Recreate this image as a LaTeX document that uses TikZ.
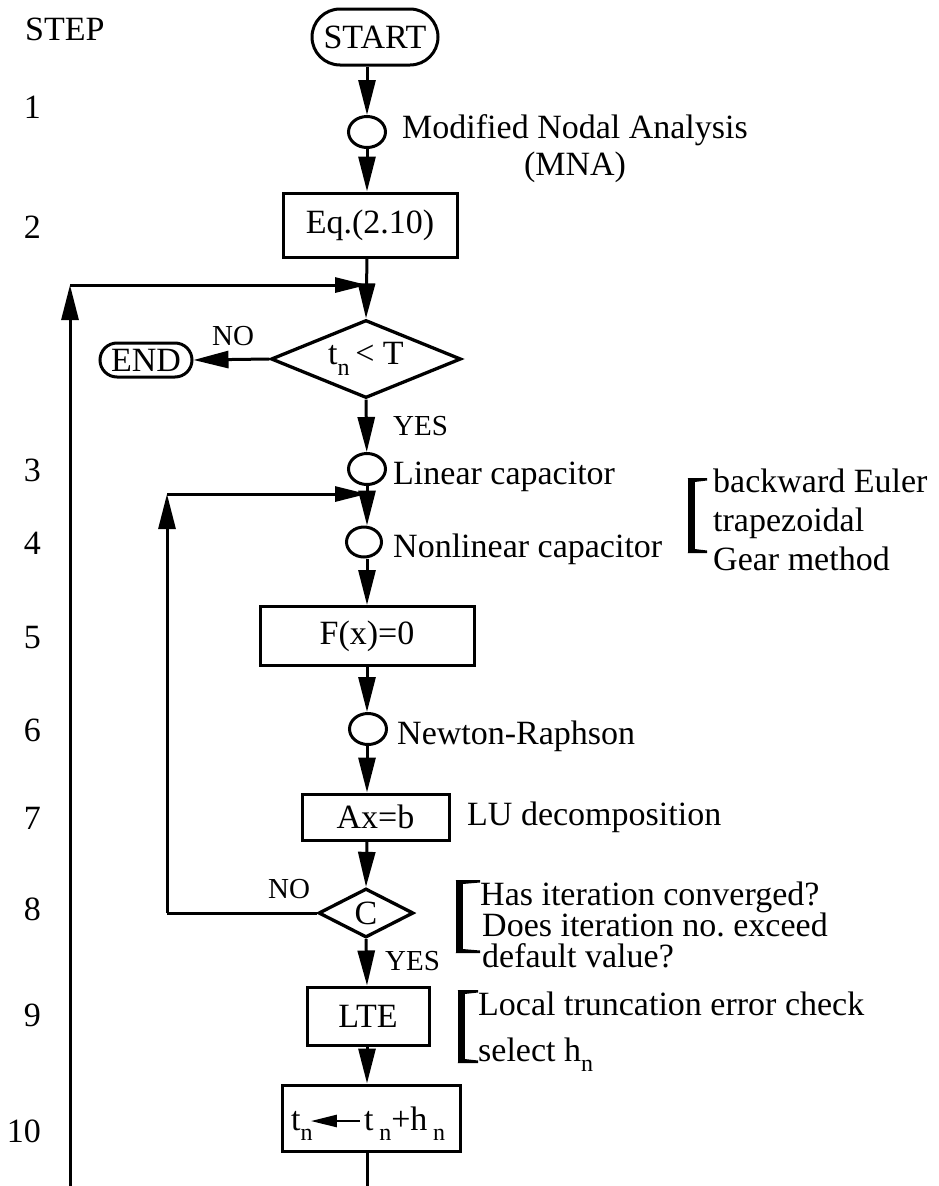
\documentclass[tikz,border=0pt]{standalone}
\usepackage{fontspec}
\setmainfont{Liberation Serif}
\usetikzlibrary{arrows.meta,shapes.geometric,shapes.misc,calc}
% lowered subscript used in t_n and h_n
\newcommand{\sbs}[1]{\raisebox{-0.32em}{\fontsize{24}{24}\selectfont #1}}
% side bracket: x, top, bottom, arm end
\newcommand{\sidebracket}[4]{%
  \fill ({#1-3.5},#2) rectangle ({#1+3.5},#3);
  \fill ({#1-3.5},#2) -- (#4,#2) -- (#4,{#2+2.5}) -- ({#1+3.5},{#2+4}) -- cycle;
  \fill ({#1-3.5},#3) -- (#4,#3) -- (#4,{#3-2.5}) -- ({#1+3.5},{#3-4}) -- cycle;
}
\begin{document}
\begin{tikzpicture}[x=1pt,y=-1pt,
  every node/.style={font=\fontsize{34}{38}\selectfont, inner sep=0pt},
  lab/.style={font=\fontsize{29}{32}\selectfont, anchor=base west},
  note/.style={anchor=base west},
  stepno/.style={anchor=base east},
  flow/.style={line width=3pt},
  arr/.style={flow,-{Triangle[length=35pt,width=17pt]}},
  harr/.style={flow,-{Triangle[length=32pt,width=15pt]}},
  box/.style={draw, line width=3pt, rectangle},
  term/.style={draw, line width=3pt, rounded rectangle},
  junc/.style={draw, line width=3pt, ellipse, minimum width=37pt, minimum height=31pt},
  test/.style={draw, line width=3.3pt, diamond, aspect=2.4},
]
\path[fill=white] (0,0) rectangle (939,1186);
\useasboundingbox (0,0) rectangle (939,1186);

% main axis of the chart
\coordinate (ax) at (367,0);

% ---- step column ----
\node[anchor=base west] (stephead) at (25,40) {STEP};
\node[stepno] (s1) at (41,118) {1};
\node[stepno] (s2) at (41,238) {2};
\node[stepno] (s3) at (41,481) {3};
\node[stepno] (s4) at (41,554) {4};
\node[stepno] (s5) at (41,648) {5};
\node[stepno] (s6) at (41,741) {6};
\node[stepno] (s7) at (41,829) {7};
\node[stepno] (s8) at (41,920) {8};
\node[stepno] (s9) at (41,1026) {9};
\node[stepno] (s10) at (41,1142) {10};

% ---- flow nodes ----
\node[term, minimum width=126pt, minimum height=56pt] (start) at (375,37) {START};
\node[junc] (c1) at (367,132) {};
\node[box, minimum width=174pt, minimum height=64pt] (eq) at (370,225) {Eq.(2.10)};
\node[test, minimum width=190pt, minimum height=78pt] (d1) at (366,359) {t\sbs{n}\,< T};
\node[term, minimum width=92pt, minimum height=34pt] (end) at (146,360) {END};
\node[junc] (c3) at (367,469) {};
\node[junc, minimum width=35pt, minimum height=30pt] (c4) at (364,542) {};
\node[box, minimum width=214pt, minimum height=59pt] (F) at (367,636) {F(x)=0};
\node[junc] (c6) at (368,729) {};
\node[box, minimum width=147pt, minimum height=46pt] (ab) at (375.5,817) {Ax=b};
\node[test, aspect=2, minimum width=95pt, minimum height=49pt] (dC) at (366,913) {C};
\node[box, minimum width=122pt, minimum height=58pt] (lte) at (368,1016) {LTE};
\node[box, minimum width=178pt, minimum height=66pt] (tn) at (371,1118) {};
\node[anchor=base west] (tnL) at (291,1130) {t\sbs{n}};
\node[anchor=base west] (tnR) at (364,1130) {t\,\sbs{n}+h\,\sbs{n}};

% ---- annotations ----
\node[note] (tMNA) at (402,138) {Modified Nodal Analysis};
\node[anchor=base] (tMNAb) at ($(tMNA.base)+(0,37)$) {(MNA)};
\node[note] (tLin) at (393,484) {Linear capacitor};
\node[note] (tNonlin) at (393,557) {Nonlinear capacitor};
\node[note] (tEu1) at (713,492) {backward Euler};
\node[note] (tEu2) at (713,531) {trapezoidal};
\node[note] (tEu3) at (713,570) {Gear method};
\node[note] (tNR) at (397,744) {Newton-Raphson};
\node[note] (tLU) at (467,825) {LU decomposition};
\node[note] (tC1) at (480,905) {Has iteration converged?};
\node[note] (tC2) at (482,936) {Does iteration no.\ exceed};
\node[note] (tC3) at (482,967) {default value?};
\node[note] (tL1) at (478,1015) {Local truncation error check};
\node[note] (tL2) at (478,1061) {select h\sbs{n}};

\node[lab] (no1) at (212,345) {NO};
\node[lab] (yes1) at (393,435) {YES};
\node[lab] (no2) at (268,898) {NO};
\node[lab] (yes2) at (385,970) {YES};

\sidebracket{691}{478}{553}{707}
\sidebracket{459}{880}{953}{480}
\sidebracket{461}{990}{1063}{478}

% ---- loop corners and open ends ----
\coordinate (j1) at (367,285);
\coordinate (k1) at (70,285);
\coordinate (b1) at (70,1186);
\coordinate (j2) at (367,494);
\coordinate (k2) at (167,494);
\coordinate (k3) at (167,913);
\coordinate (b2) at (367,1186);

% ---- connectors ----
\draw[arr] (start.south -| ax) -- (c1);
\draw[arr] (c1) -- (eq.north -| ax);
\draw[arr] (eq.south -| ax) -- (d1.north);
\draw[arr] (d1.west) -- (end.east);
\draw[arr] (d1.south) -- (c3);
\draw[arr] (c3.south -| ax) -- (c4.north -| ax);
\draw[arr] (c4.south -| ax) -- (F.north -| ax);
\draw[arr] (F.south -| ax) -- (c6.north -| ax);
\draw[arr] (c6.south -| ax) -- (ab.north -| ax);
\draw[arr] (ab.south -| ax) -- (dC.north);
\draw[arr] (dC.south) -- (lte.north -| ax);
\draw[arr] (lte.south -| ax) -- (tn.north -| ax);
\draw[flow] (tn.south -| ax) -- (b2);

% outer loop back to the time test
\draw[arr] (b1) -- (k1);
\draw[harr] (k1) -- (j1);
% inner Newton loop
\draw[flow] (dC.west) -- (k3);
\draw[arr] (k3) -- (k2);
\draw[harr] (k2) -- (j2);

% assignment arrow inside step 10
\draw[line width=2.5pt,-{Triangle[length=26pt,width=12pt]}]
  ($(tnR.base west)+(-4,-9)$) -- ($(tnL.base east)+(-2,-9)$);
\end{tikzpicture}
\end{document}
